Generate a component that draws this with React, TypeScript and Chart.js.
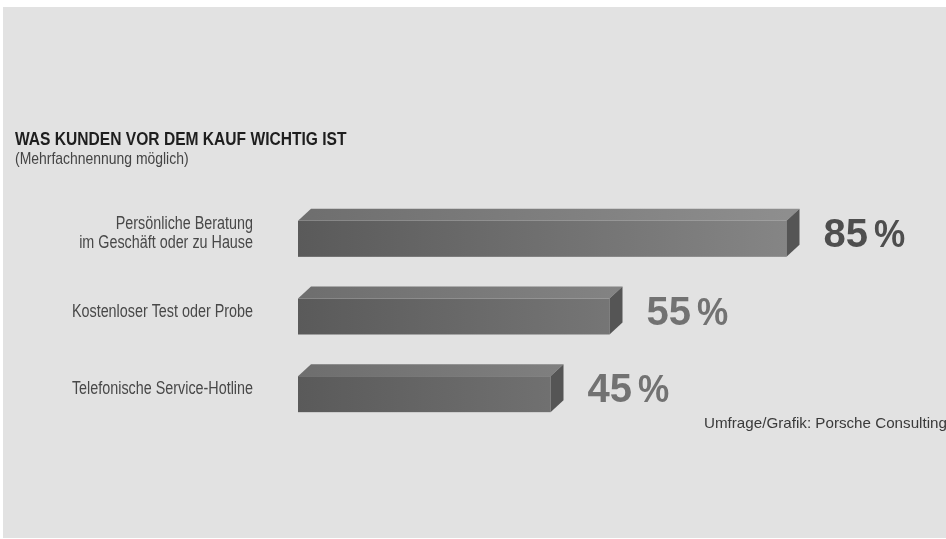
import React, { useEffect, useRef } from "react";
import { Chart, registerables } from "chart.js";

Chart.register(...registerables);

const categories: (string | string[])[] = [
  ["Persönliche Beratung", "im Geschäft oder zu Hause"],
  "Kostenloser Test oder Probe",
  "Telefonische Service-Hotline",
];
const values: number[] = [85, 55, 45];
const valueSuffix = "%";
const titleText = "WAS KUNDEN VOR DEM KAUF WICHTIG IST";
const subtitleText = "(Mehrfachnennung möglich)";
const sourceText = "Umfrage/Grafik: Porsche Consulting";

const valueColors = ["#4e4e4e", "#727272", "#727272"];
const DEPTH_X = 13;
const DEPTH_Y = 12;
const NARROW = 0.82;

const wide = '"Liberation Sans", Arial, sans-serif';

function drawText(
  ctx: CanvasRenderingContext2D,
  text: string,
  x: number,
  y: number,
  font: string,
  color: string,
  align: CanvasTextAlign,
  sx: number
) {
  ctx.save();
  ctx.font = font;
  ctx.fillStyle = color;
  ctx.textAlign = align;
  ctx.textBaseline = "alphabetic";
  ctx.translate(x, y);
  ctx.scale(sx, 1);
  ctx.fillText(text, 0, 0);
  ctx.restore();
}

const decoPlugin = {
  id: "deco",
  beforeDraw(chart: any) {
    const { ctx, width, height } = chart;
    ctx.save();
    ctx.fillStyle = "#ffffff";
    ctx.fillRect(0, 0, width, height);
    ctx.fillStyle = "#e2e2e2";
    ctx.fillRect(3, 7, width - 3, height - 8);
    ctx.restore();
  },
  afterDatasetsDraw(chart: any) {
    const { ctx } = chart;
    const meta = chart.getDatasetMeta(0);
    const labels = chart.data.labels as (string | string[])[];
    const data = chart.data.datasets[0].data as number[];
    ctx.save();
    meta.data.forEach((el: any, i: number) => {
      const { x, y, base, height } = el.getProps(["x", "y", "base", "height"], true);
      const left = base + DEPTH_X;
      const top = y - height / 2;
      const bottom = y + height / 2;
      const gradStart = chart.chartArea.left + DEPTH_X;
      const gradEnd = chart.scales.x.getPixelForValue(85);
      // front face
      const gf = ctx.createLinearGradient(gradStart, 0, gradEnd, 0);
      gf.addColorStop(0, "#5a5a5a");
      gf.addColorStop(1, "#858585");
      ctx.fillStyle = gf;
      ctx.fillRect(left, top, x - left, height);
      // top face
      const gt = ctx.createLinearGradient(gradStart, 0, gradEnd, 0);
      gt.addColorStop(0, "#6e6e6e");
      gt.addColorStop(1, "#8e8e8e");
      ctx.fillStyle = gt;
      ctx.beginPath();
      ctx.moveTo(left, top);
      ctx.lineTo(left + DEPTH_X, top - DEPTH_Y);
      ctx.lineTo(x + DEPTH_X, top - DEPTH_Y);
      ctx.lineTo(x, top);
      ctx.closePath();
      ctx.fill();
      // side face
      ctx.fillStyle = "#555555";
      ctx.beginPath();
      ctx.moveTo(x, top);
      ctx.lineTo(x + DEPTH_X, top - DEPTH_Y);
      ctx.lineTo(x + DEPTH_X, bottom - DEPTH_Y);
      ctx.lineTo(x, bottom);
      ctx.closePath();
      ctx.fill();

      const cy = y - DEPTH_Y / 2;
      // value label
      const numText = String(data[i]);
      const tx = x + DEPTH_X + 24;
      const by = cy + 14.3;
      drawText(ctx, numText, tx, by, `bold 40px ${wide}`, valueColors[i], "left", 1);
      ctx.font = `bold 40px ${wide}`;
      const nw = ctx.measureText(numText).width;
      drawText(ctx, valueSuffix, tx + nw + 6, by, `bold 39px ${wide}`, valueColors[i], "left", 0.9);

      // category label
      const lab = labels[i];
      const lines = Array.isArray(lab) ? lab : [lab];
      const lh = 19;
      lines.forEach((ln, j) => {
        drawText(
          ctx,
          ln,
          253,
          cy + 6 - ((lines.length - 1) * lh) / 2 + j * lh,
          `17.5px ${wide}`,
          "#484848",
          "right",
          NARROW
        );
      });
    });

    // title, subtitle, source
    drawText(ctx, titleText, 15, 145, `bold 19px ${wide}`, "#1e1e1e", "left", NARROW);
    drawText(ctx, subtitleText, 15, 164, `17px ${wide}`, "#444444", "left", NARROW);
    drawText(ctx, sourceText, 704, 428, `14.6px ${wide}`, "#3a3a3a", "left", 1.04);
    ctx.restore();
  },
};

export default function App() {
  const canvasRef = useRef<HTMLCanvasElement | null>(null);

  useEffect(() => {
    document.body.style.margin = "0";
    const canvas = canvasRef.current;
    if (!canvas) return;
    const chart = new Chart(canvas, {
      type: "bar",
      data: {
        labels: categories as any,
        datasets: [
          {
            data: values,
            backgroundColor: "rgba(0,0,0,0)",
            borderWidth: 0,
            barThickness: 36,
          },
        ],
      },
      options: {
        indexAxis: "y",
        responsive: true,
        maintainAspectRatio: false,
        animation: false,
        layout: { padding: { left: 285, right: 71, top: 200, bottom: 106 } },
        plugins: {
          legend: { display: false },
          tooltip: { enabled: false },
          title: { display: false },
        },
        scales: {
          x: { display: false, min: 0, max: 100 },
          y: { display: false, offset: true, grid: { display: false } },
        },
      },
      plugins: [decoPlugin],
    });
    return () => chart.destroy();
  }, []);

  return (
    <div style={{ position: "fixed", left: 0, top: 0, width: 946, height: 539 }}>
      <canvas ref={canvasRef} />
    </div>
  );
}
